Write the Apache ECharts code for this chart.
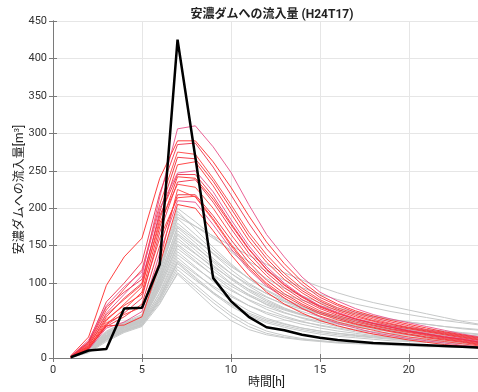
<!DOCTYPE html>
<html>
<head>
<meta charset="utf-8">
<script src="https://cdn.jsdelivr.net/npm/echarts@6/dist/echarts.min.js"></script>
<style>
  html, body { margin: 0; padding: 0; background: #fff; }
  #chart { width: 478px; height: 392px; }
</style>
</head>
<body>
<div id="chart"></div>
<script>
// 時間 [h]
const hours = [1, 2, 3, 4, 5, 6, 7, 8, 9, 10, 11, 12, 13, 14, 15, 16, 17, 18, 19, 20, 21, 22, 23, 24];

// 実績 (黒線)
const observedFlow = [1, 10, 12, 66, 67, 125, 425, 268, 107, 76, 55, 41, 37, 31, 27, 24, 22, 20, 19, 18, 17, 16, 15, 14];

// 赤線 (アンサンブル上位)
const redRuns = [
  [2, 18, 60, 85, 110, 215, 306, 310, 282, 248, 205, 165, 135, 108, 88, 76, 66, 58, 52, 47, 42, 37, 32, 28],
  [3, 28, 97, 135, 160, 240, 290, 290, 262, 228, 190, 155, 126, 102, 84, 72, 63, 56, 50, 45, 40, 35, 31, 27],
  [2, 22, 75, 100, 128, 220, 285, 287, 255, 218, 180, 146, 120, 98, 81, 70, 61, 54, 48, 43, 38, 34, 30, 26],
  [1, 20, 64, 92, 118, 205, 275, 272, 240, 205, 168, 138, 113, 93, 78, 67, 59, 52, 46, 41, 37, 33, 29, 25],
  [2, 16, 55, 80, 100, 195, 268, 266, 236, 200, 163, 133, 109, 90, 76, 65, 57, 50, 45, 40, 36, 32, 28, 24],
  [1, 14, 50, 72, 95, 185, 258, 262, 230, 193, 157, 128, 105, 87, 73, 63, 55, 49, 43, 39, 35, 31, 27, 23],
  [2, 24, 70, 95, 115, 200, 247, 250, 222, 185, 150, 122, 100, 83, 70, 61, 53, 47, 42, 37, 33, 29, 26, 22],
  [1, 15, 45, 65, 88, 175, 242, 240, 212, 178, 145, 118, 97, 81, 68, 59, 52, 46, 41, 36, 32, 28, 25, 21],
  [1, 12, 44, 60, 80, 168, 235, 238, 208, 173, 140, 114, 94, 78, 66, 57, 50, 44, 39, 35, 31, 27, 24, 20],
  [2, 19, 58, 78, 98, 180, 232, 228, 200, 165, 134, 110, 90, 75, 63, 55, 48, 43, 38, 34, 30, 26, 23, 19],
  [1, 13, 42, 55, 72, 150, 218, 218, 190, 158, 128, 104, 86, 72, 61, 53, 46, 41, 36, 32, 28, 25, 22, 18],
  [1, 17, 52, 70, 85, 160, 214, 216, 186, 152, 123, 100, 83, 70, 59, 51, 45, 40, 35, 31, 27, 24, 21, 17],
  [1, 11, 40, 48, 62, 140, 210, 208, 178, 146, 118, 96, 80, 66, 55, 46, 40, 34, 30, 26, 23, 20, 17, 15],
  [1, 13, 43, 44, 55, 125, 205, 200, 170, 138, 110, 88, 72, 60, 50, 43, 37, 32, 28, 24, 21, 18, 16, 13],
  [2, 21, 68, 88, 105, 190, 245, 245, 216, 180, 146, 119, 98, 82, 69, 60, 52, 46, 41, 36, 32, 28, 25, 21],
  [1, 14, 47, 58, 68, 130, 225, 215, 184, 150, 120, 98, 80, 66, 56, 48, 42, 37, 32, 28, 25, 22, 19, 16]
];

// 灰色線 (アンサンブル下位)
const grayRuns = [
  [1, 12, 34, 46, 55, 125, 200, 182, 162, 142, 122, 106, 93, 83, 74, 67, 61, 56, 52, 48, 45, 42, 40, 38],
  [1, 11, 32, 45, 54, 118, 192, 176, 160, 144, 129, 116, 104, 94, 85, 78, 72, 67, 62, 58, 54, 50, 47, 44],
  [1, 10, 30, 44, 52, 112, 186, 165, 144, 124, 106, 91, 79, 69, 61, 55, 50, 46, 42, 39, 36, 33, 31, 29],
  [1, 13, 36, 48, 58, 120, 180, 160, 139, 118, 100, 86, 75, 66, 59, 53, 48, 44, 41, 38, 35, 32, 30, 28],
  [1, 9, 28, 42, 50, 108, 176, 158, 140, 122, 107, 95, 85, 77, 70, 64, 59, 55, 51, 48, 45, 42, 39, 37],
  [1, 10, 29, 43, 51, 104, 170, 150, 128, 108, 91, 78, 67, 58, 51, 46, 42, 38, 35, 32, 30, 28, 26, 24],
  [1, 12, 33, 45, 53, 106, 166, 148, 130, 113, 98, 86, 76, 68, 61, 56, 51, 47, 44, 41, 38, 36, 34, 32],
  [1, 9, 27, 40, 48, 98, 160, 140, 120, 100, 84, 71, 61, 53, 47, 42, 38, 35, 32, 30, 28, 26, 24, 22],
  [1, 11, 31, 44, 50, 100, 156, 139, 122, 106, 92, 81, 72, 65, 59, 54, 50, 46, 43, 40, 37, 35, 33, 31],
  [1, 8, 26, 39, 47, 94, 150, 130, 110, 92, 77, 65, 56, 49, 43, 39, 35, 32, 30, 28, 26, 24, 22, 21],
  [1, 10, 29, 42, 49, 92, 146, 128, 111, 96, 83, 72, 64, 57, 51, 47, 43, 40, 37, 35, 33, 31, 29, 27],
  [1, 9, 26, 38, 46, 88, 142, 122, 102, 84, 70, 59, 51, 45, 40, 36, 33, 30, 28, 26, 24, 22, 21, 20],
  [1, 11, 30, 41, 48, 86, 138, 120, 104, 90, 78, 68, 60, 54, 49, 45, 41, 38, 36, 34, 32, 30, 28, 27],
  [1, 8, 24, 37, 45, 83, 134, 114, 94, 77, 63, 53, 46, 40, 36, 33, 30, 28, 26, 24, 22, 21, 20, 19],
  [1, 10, 28, 40, 47, 82, 130, 112, 96, 82, 70, 61, 54, 48, 44, 40, 37, 35, 33, 31, 29, 27, 26, 25],
  [1, 9, 25, 36, 44, 79, 126, 106, 86, 69, 56, 47, 41, 36, 32, 29, 27, 25, 23, 22, 21, 20, 19, 18],
  [1, 8, 24, 35, 43, 77, 122, 104, 87, 72, 60, 51, 45, 40, 36, 33, 31, 29, 27, 25, 24, 23, 22, 21],
  [1, 10, 27, 38, 45, 76, 118, 98, 78, 60, 46, 36, 30, 26, 23, 21, 20, 19, 18, 17, 16, 15, 15, 14],
  [1, 7, 22, 34, 42, 72, 114, 94, 74, 56, 42, 33, 28, 25, 23, 21, 20, 19, 18, 17, 16, 15, 14, 14],
  [1, 9, 25, 36, 44, 74, 112, 90, 68, 50, 38, 31, 27, 24, 22, 20, 19, 18, 17, 16, 15, 15, 14, 13],
  [1, 12, 35, 47, 56, 122, 196, 172, 148, 126, 106, 90, 77, 67, 59, 53, 48, 44, 41, 38, 35, 33, 31, 29],
  [1, 11, 33, 46, 55, 116, 188, 176, 163, 150, 137, 125, 114, 104, 95, 87, 80, 74, 69, 64, 59, 54, 49, 45],
  [1, 10, 30, 43, 52, 110, 174, 154, 133, 113, 96, 82, 71, 62, 55, 50, 46, 42, 39, 36, 34, 32, 30, 28],
  [1, 9, 29, 42, 50, 102, 164, 144, 124, 105, 89, 76, 66, 58, 52, 47, 43, 40, 37, 34, 32, 30, 28, 26],
  [1, 10, 28, 41, 49, 96, 152, 134, 116, 99, 85, 74, 65, 58, 52, 48, 44, 41, 38, 36, 34, 32, 30, 28],
  [1, 8, 24, 36, 44, 80, 128, 108, 88, 71, 58, 49, 43, 38, 34, 31, 29, 27, 25, 23, 22, 21, 20, 19]
];

const redColors = ['#e8508a', '#ff2a2a', '#f0304a', '#ff4040', '#ee2c3c', '#ff3535'];
const fontFamily = 'Roboto, "Noto Sans CJK JP", sans-serif';

const toPoints = (values) => values.map((v, i) => [hours[i], v]);

const lineBase = {
  type: 'line',
  symbol: 'none',
  silent: true,
  animation: false,
  xAxisIndex: 0,
  yAxisIndex: 0,
};

const series = [
  ...grayRuns.map((run) => ({
    ...lineBase,
    data: toPoints(run),
    lineStyle: { color: '#c6c8c8', width: 1 },
  })),
  ...redRuns.map((run, index) => ({
    ...lineBase,
    data: toPoints(run),
    lineStyle: { color: redColors[index % redColors.length], width: 1, opacity: 0.9 },
  })),
  {
    ...lineBase,
    data: toPoints(observedFlow),
    lineStyle: { color: '#000', width: 2.5 },
    z: 10,
  },
];

const axisColor = '#7a7a7a';
const labelStyle = { color: '#333', fontSize: 11, fontFamily };

const chart = echarts.init(document.getElementById('chart'));
chart.setOption({
  animation: false,
  title: {
    text: '安濃ダムへの流入量 (H24T17)',
    left: 267,
    textAlign: 'center',
    top: 4,
    textStyle: { fontSize: 12, fontWeight: 'bold', color: '#222', fontFamily },
  },
  grid: { left: 53, right: -2, top: 21, bottom: 34, outerBoundsMode: 'none', containLabel: false },
  xAxis: [
    {
      type: 'value',
      min: 0,
      max: 24,
      interval: 5,
      name: '時間[h]',
      nameLocation: 'middle',
      nameGap: 19,
      nameMoveOverlap: false,
      nameTextStyle: { fontSize: 12, color: '#222', fontFamily },
      axisLine: { lineStyle: { color: axisColor } },
      axisTick: { inside: true, length: 4, lineStyle: { color: axisColor } },
      axisLabel: { ...labelStyle, margin: 7, showMaxLabel: false },
      splitLine: { show: true, lineStyle: { color: '#e6e6e6', width: 1 } },
    },
    {
      type: 'value',
      position: 'top',
      min: 0,
      max: 24,
      interval: 5,
      axisLine: { show: true, lineStyle: { color: axisColor } },
      axisTick: { inside: true, length: 4, lineStyle: { color: axisColor } },
      axisLabel: { show: false },
      splitLine: { show: false },
    },
  ],
  yAxis: [
    {
      type: 'value',
      min: 0,
      max: 450,
      interval: 50,
      name: '安濃ダムへの流入量[m{sup|3}]',
      nameLocation: 'middle',
      nameRotate: 90,
      nameGap: 26,
      nameMoveOverlap: false,
      nameTextStyle: {
        fontSize: 12,
        color: '#222',
        fontFamily,
        rich: { sup: { fontSize: 8, verticalAlign: 'top', color: '#222', padding: [0, 0, 6, 0] } },
      },
      axisLine: { show: true, lineStyle: { color: axisColor } },
      axisTick: { show: true, inside: true, length: 4, lineStyle: { color: axisColor } },
      axisLabel: { ...labelStyle, margin: 6 },
      splitLine: { show: true, lineStyle: { color: '#e6e6e6', width: 1 } },
    },
    {
      type: 'value',
      position: 'right',
      min: 0,
      max: 450,
      interval: 50,
      axisLine: { show: true, lineStyle: { color: axisColor } },
      axisTick: { show: true, inside: true, length: 4, lineStyle: { color: axisColor } },
      axisLabel: { show: false },
      splitLine: { show: false },
    },
  ],
  series,
});
</script>
</body>
</html>
